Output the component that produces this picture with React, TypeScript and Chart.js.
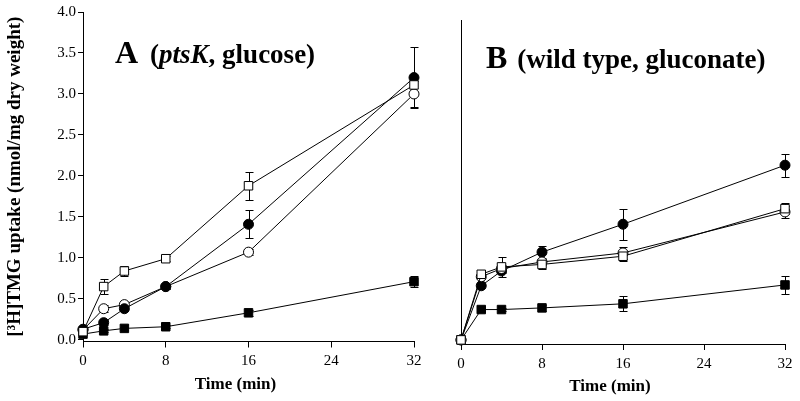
import React, { useEffect, useRef } from "react";
import { Chart, registerables } from "chart.js";

Chart.register(...registerables);

// ---------- data ----------
const TIMES = [0, 2, 4, 8, 16, 32];
const X_TICKS = [0, 8, 16, 24, 32];
const Y_TICKS = [0, 0.5, 1, 1.5, 2, 2.5, 3, 3.5, 4];

// Panel A (ptsK, glucose)
const A_OPEN_SQUARE = [0.1, 0.65, 0.84, 0.99, 1.88, 3.11];
const A_OPEN_SQUARE_ERR = [0, 0.09, 0.06, 0.03, 0.17, 0.08];
const A_FILLED_CIRCLE = [0.13, 0.21, 0.38, 0.65, 1.41, 3.2];
const A_FILLED_CIRCLE_ERR = [0, 0.03, 0.03, 0.03, 0.17, 0.37];
const A_OPEN_CIRCLE = [0.12, 0.38, 0.43, 0.65, 1.07, 3.0];
const A_OPEN_CIRCLE_ERR = [0, 0.04, 0.03, 0.03, 0.04, 0.16];
const A_FILLED_SQUARE = [0.07, 0.11, 0.14, 0.16, 0.33, 0.71];
const A_FILLED_SQUARE_ERR = [0, 0.02, 0.02, 0.02, 0.04, 0.07];

// Panel B (wild type, gluconate)
const B_OPEN_SQUARE = [0, 0.8, 0.89, 0.92, 1.02, 1.6];
const B_OPEN_SQUARE_ERR = [0, 0.04, 0.12, 0.05, 0.06, 0.07];
const B_FILLED_CIRCLE = [0, 0.66, 0.84, 1.07, 1.41, 2.13];
const B_FILLED_CIRCLE_ERR = [0, 0.03, 0.03, 0.07, 0.19, 0.14];
const B_OPEN_CIRCLE = [0, 0.77, 0.87, 0.95, 1.06, 1.56];
const B_OPEN_CIRCLE_ERR = [0, 0.03, 0.04, 0.04, 0.07, 0.07];
const B_FILLED_SQUARE = [0, 0.37, 0.37, 0.39, 0.44, 0.67];
const B_FILLED_SQUARE_ERR = [0, 0.02, 0.02, 0.04, 0.09, 0.11];

const Y_TITLE = "[³H]TMG uptake (nmol/mg dry weight)";
const X_TITLE = "Time (min)";

const FONT = "'Liberation Serif', 'Times New Roman', Times, serif";

type Series = { values: number[]; errors: number[]; style: string; filled: boolean };

const errorBarPlugin = {
  id: "errorBars",
  beforeDatasetsDraw(chart: any) {
    const ctx = chart.ctx;
    const xs = chart.scales.x;
    const ys = chart.scales.y;
    ctx.save();
    ctx.strokeStyle = "#000";
    ctx.lineWidth = 1;
    chart.data.datasets.forEach((ds: any) => {
      const errs = ds.errors;
      if (!errs) return;
      ds.data.forEach((p: any, i: number) => {
        const e = errs[i];
        if (!e) return;
        const x = Math.round(xs.getPixelForValue(p.x)) + 0.5;
        const y1 = Math.round(ys.getPixelForValue(p.y + e)) + 0.5;
        const y2 = Math.round(ys.getPixelForValue(p.y - e)) + 0.5;
        ctx.beginPath();
        ctx.moveTo(x, y1);
        ctx.lineTo(x, y2);
        ctx.moveTo(x - 4, y1);
        ctx.lineTo(x + 4, y1);
        ctx.moveTo(x - 4, y2);
        ctx.lineTo(x + 4, y2);
        ctx.stroke();
      });
    });
    ctx.restore();
  },
};

type Piece = { text: string; italic?: boolean; size: number };

function makeTextPlugin(label: { x: number; y: number; pieces: Piece[]; gapAfterFirst: number }, xTitle: { dx: number; y: number }) {
  return {
    id: "panelText",
    afterDraw(chart: any) {
      const ctx = chart.ctx;
      ctx.save();
      ctx.fillStyle = "#000";
      ctx.textBaseline = "alphabetic";
      ctx.textAlign = "left";
      let x = label.x;
      label.pieces.forEach((p, i) => {
        ctx.font = `${p.italic ? "italic " : ""}bold ${p.size}px ${FONT}`;
        ctx.fillText(p.text, x, label.y);
        x += ctx.measureText(p.text).width;
        if (i === 0) x += label.gapAfterFirst;
      });
      const area = chart.chartArea;
      ctx.font = `bold 17px ${FONT}`;
      ctx.textAlign = "center";
      ctx.textBaseline = "middle";
      ctx.fillText(X_TITLE, (area.left + area.right) / 2 + xTitle.dx, xTitle.y);
      ctx.restore();
    },
  };
}

type Panel = {
  series: Series[];
  yMin: number;
  yMax: number;
  showY: boolean;
  yWidth: number;
  xHeight: number;
  padTop: number;
  padRight: number;
  label: { x: number; y: number; pieces: Piece[]; gapAfterFirst: number };
  xTitle: { dx: number; y: number };
};

function makeConfig(p: Panel): any {
  return {
    type: "line",
    data: {
      datasets: p.series.map((s) => ({
        data: TIMES.map((t, i) => ({ x: t, y: s.values[i] })),
        errors: s.errors,
        borderColor: "#000",
        borderWidth: 1,
        pointStyle: s.style,
        pointRadius: s.style === "rect" ? 6 : 5,
        pointBackgroundColor: s.filled ? "#000" : "#fff",
        pointBorderColor: "#000",
        pointBorderWidth: 1,
        fill: false,
        tension: 0,
        clip: false,
      })),
    },
    options: {
      animation: false,
      responsive: false,
      events: [],
      layout: { padding: { left: 0, right: p.padRight, top: p.padTop, bottom: 0 } },
      plugins: { legend: { display: false }, tooltip: { enabled: false } },
      scales: {
        x: {
          type: "linear",
          min: 0,
          max: 32,
          afterBuildTicks: (s: any) => {
            s.ticks = X_TICKS.map((v) => ({ value: v }));
          },
          afterFit: (s: any) => {
            s.height = p.xHeight;
          },
          grid: { drawOnChartArea: false, drawTicks: true, tickLength: 6, color: "#000" },
          border: { display: true, color: "#000", width: 1 },
          ticks: {
            font: { family: FONT, size: 15 },
            color: "#000",
            padding: 5,
            maxRotation: 0,
            autoSkip: false,
          },
        },
        y: {
          type: "linear",
          min: p.yMin,
          max: p.yMax,
          afterBuildTicks: (s: any) => {
            s.ticks = p.showY ? Y_TICKS.map((v) => ({ value: v })) : [];
          },
          afterFit: (s: any) => {
            s.width = p.yWidth;
          },
          grid: { drawOnChartArea: false, drawTicks: p.showY, tickLength: 5, color: "#000" },
          border: { display: true, color: "#000", width: 1 },
          ticks: {
            display: p.showY,
            font: { family: FONT, size: 15 },
            color: "#000",
            padding: 2,
            callback: (v: any) => Number(v).toFixed(1),
          },
          title: {
            display: p.showY,
            text: Y_TITLE,
            color: "#000",
            font: { family: FONT, size: 19, weight: "bold" },
            padding: { top: 4, bottom: 0 },
          },
        },
      },
    },
    plugins: [errorBarPlugin, makeTextPlugin(p.label, p.xTitle)],
  };
}

const PANEL_A: Panel = {
  series: [
    { values: A_OPEN_SQUARE, errors: A_OPEN_SQUARE_ERR, style: "rect", filled: false },
    { values: A_FILLED_CIRCLE, errors: A_FILLED_CIRCLE_ERR, style: "circle", filled: true },
    { values: A_OPEN_CIRCLE, errors: A_OPEN_CIRCLE_ERR, style: "circle", filled: false },
    { values: A_FILLED_SQUARE, errors: A_FILLED_SQUARE_ERR, style: "rect", filled: true },
  ],
  yMin: -0.02,
  yMax: 4.0,
  showY: true,
  yWidth: 83,
  xHeight: 59.5,
  padTop: 12,
  padRight: 26,
  label: {
    x: 115,
    y: 63,
    gapAfterFirst: 12,
    pieces: [
      { text: "A", size: 32 },
      { text: "(", size: 27 },
      { text: "ptsK", italic: true, size: 27 },
      { text: ", glucose)", size: 27 },
    ],
  },
  xTitle: { dx: -13, y: 385 },
};

const PANEL_B: Panel = {
  series: [
    { values: B_OPEN_SQUARE, errors: B_OPEN_SQUARE_ERR, style: "rect", filled: false },
    { values: B_OPEN_CIRCLE, errors: B_OPEN_CIRCLE_ERR, style: "circle", filled: false },
    { values: B_FILLED_CIRCLE, errors: B_FILLED_CIRCLE_ERR, style: "circle", filled: true },
    { values: B_FILLED_SQUARE, errors: B_FILLED_SQUARE_ERR, style: "rect", filled: true },
  ],
  yMin: -0.05,
  yMax: 3.9,
  showY: false,
  yWidth: 41,
  xHeight: 57,
  padTop: 20,
  padRight: 15,
  label: {
    x: 66,
    y: 68,
    gapAfterFirst: 10,
    pieces: [
      { text: "B", size: 32 },
      { text: "(wild type, gluconate)", size: 27 },
    ],
  },
  xTitle: { dx: -13, y: 387 },
};

function PanelChart({ panel, left, width }: { panel: Panel; left: number; width: number }) {
  const ref = useRef<HTMLCanvasElement | null>(null);
  useEffect(() => {
    if (!ref.current) return;
    const chart = new Chart(ref.current, makeConfig(panel));
    return () => chart.destroy();
  }, [panel]);
  return (
    <canvas
      ref={ref}
      width={width}
      height={401}
      style={{ position: "absolute", left, top: 0, width, height: 401 }}
    />
  );
}

export default function App() {
  return (
    <div
      style={{
        position: "fixed",
        left: 0,
        top: 0,
        width: 800,
        height: 401,
        background: "#fff",
        overflow: "hidden",
      }}
    >
      <PanelChart panel={PANEL_A} left={0} width={440} />
      <PanelChart panel={PANEL_B} left={420} width={380} />
    </div>
  );
}
